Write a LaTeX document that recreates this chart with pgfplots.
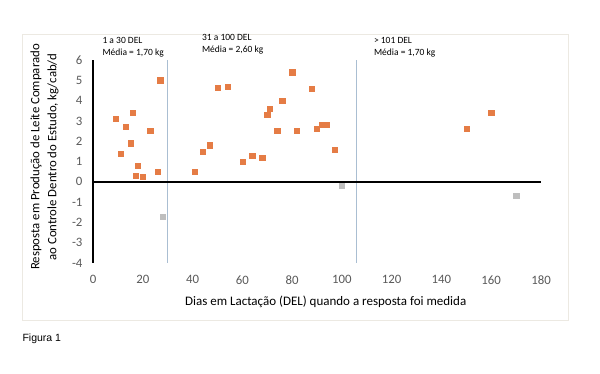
\documentclass[border=0pt]{standalone}
\usepackage{pgfplots}
\pgfplotsset{compat=1.18}
\usepackage{fontspec}
\setmainfont{Carlito}
\newfontfamily\arialfont{Liberation Sans}
\definecolor{orangeS}{RGB}{229,124,69}
\definecolor{grayS}{RGB}{190,190,190}
\definecolor{vline}{RGB}{170,190,210}
\definecolor{ticktext}{RGB}{89,89,89}
\definecolor{frameC}{RGB}{236,233,226}
\pgfplotstableread{
x y
9 3.1
13 2.7
16 3.4
11 1.4
15 1.9
23 2.5
18 0.8
17 0.3
20 0.25
26 0.5
27 5.0
41 0.5
44 1.5
47 1.8
50 4.65
54 4.7
60 1.0
64 1.3
68 1.2
70 3.3
71 3.6
74 2.5
76 4.0
80 5.4
82 2.5
88 4.6
90 2.6
92 2.8
94 2.8
97 1.6
150 2.6
160 3.4
}\orangedata
\pgfplotstableread{
x y
28 -1.7
100 -0.2
170 -0.7
}\graydata
\begin{document}
\begin{tikzpicture}[x=1pt,y=1pt]
\useasboundingbox (0,0) rectangle (600,374);
\draw[frameC, line width=0.8pt] (22,374-34) rectangle (568,374-320);
\begin{axis}[
  at={(93pt,111pt)}, anchor=south west,
  scale only axis, width=448pt, height=203pt,
  xmin=0, xmax=180, ymin=-4, ymax=6,
  axis x line*=bottom, axis y line*=left,
  x axis line style={draw=none},
  y axis line style={black, line width=1.6pt, -},
  xtick={0,20,...,180}, ytick={-4,-3,...,6},
  major tick length=0pt,
  tick label style={font=\fontsize{12.8}{14}\selectfont, text=ticktext},
  /pgf/number format/assume math mode=true,
  xticklabel style={yshift=-9pt},
  yticklabel style={xshift=-7pt},
  clip=false,
]
\addplot[vline, line width=0.8pt] coordinates {(30,-4) (30,6)};
\addplot[vline, line width=0.8pt] coordinates {(106,-4) (106,6)};
\addplot[black, line width=1.6pt] coordinates {(0,0) (180,0)};
\addplot[only marks, mark=square*, mark size=2.6pt, mark options={fill=orangeS, draw=orangeS}] table[x=x,y=y] {\orangedata};
\addplot[only marks, mark=square*, mark size=2.6pt, mark options={fill=grayS, draw=grayS}] table[x=x,y=y] {\graydata};
\end{axis}
\node[font=\fontsize{13}{15}\selectfont] at (325.7,374-301.5) {Dias em Lactação (DEL) quando a resposta foi medida};
\node[font=\fontsize{12.8}{17}\selectfont, rotate=90, align=center] at (44.5,374-157) {Resposta em Produção de Leite Comparado\\ao Controle Dentro do Estudo, kg/cab/d};
\node[font=\fontsize{9.5}{12}\selectfont, anchor=west, align=left] at (99,374-47.5) {1 a 30 DEL\\Média = 1,70 kg};
\node[font=\fontsize{9.5}{12}\selectfont, anchor=west, align=left] at (198.5,374-44) {31 a 100 DEL\\Média = 2,60 kg};
\node[font=\fontsize{9.5}{12}\selectfont, anchor=west, align=left] at (370.5,374-47) {> 101 DEL\\Média = 1,70 kg};
\node[font=\arialfont\fontsize{10.5}{12}\selectfont, anchor=west] at (19,374-339) {Figura 1};
\end{tikzpicture}
\end{document}
